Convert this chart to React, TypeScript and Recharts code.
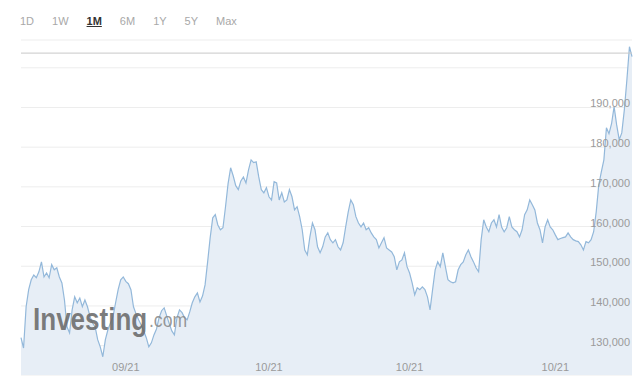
import React from 'react';
import { AreaChart, Area, XAxis, YAxis, CartesianGrid, ReferenceLine } from 'recharts';

// price closes, oldest first
const closes = [
  132000, 129400, 139800, 144100, 146600, 147800, 147100, 148600, 151100, 147300,
  148300, 147100, 150400, 149100, 149600, 147300, 145800, 141500, 134700, 133200,
  139000, 142300, 140800, 142000, 139800, 141500, 139800, 137300, 135700, 134700,
  131500, 129700, 127200, 131500, 134000, 135700, 137300, 140800, 144100, 146600,
  147300,
  146200, 145600, 144100, 139800, 138000, 136500, 135200, 133700, 132000, 129700,
  130700, 132700, 134200, 137000, 138800, 139500, 137500, 135500, 133700, 132700,
  137000, 139000, 138300, 137000, 136500, 138500, 140800, 142300, 143300, 141000,
  142500, 145300, 151100, 157200, 162200, 163000, 160400, 159200, 159700, 165000,
  170800, 174800, 172800, 170300, 169300, 171500,
  172500, 171000, 174300, 176800, 176100, 176300, 172500, 169300, 168500, 169800,
  167500, 166700, 171300, 171000, 166700, 168500, 166200, 166700, 169300, 167500,
  164200, 165000, 162500, 159200, 154100, 152900, 157400, 160900, 159200, 154900,
  153400, 154900, 157400, 158400, 156700, 155900, 156700, 154900, 154100, 155900,
  159900, 163700, 166700, 165500,
  162500, 160900, 159900, 160900, 159200, 159700, 158400, 157400, 156700, 154600,
  155900, 157200, 154600, 154100, 153600, 152400, 149100, 151100, 151600, 153400,
  149900, 148300, 145800, 142800, 144600, 144100, 144800, 144100, 142300, 139000,
  144100, 149100, 151100, 149900, 153400, 149900, 146600, 146100, 145800,
  146100, 149100, 150400, 151100, 152900, 154100, 152400, 151100, 149600, 148600,
  156700, 161700, 159900, 158700, 160900, 161700, 159900, 163000, 159900, 158700,
  159700, 162500, 159900, 159200, 158700, 157400, 159200, 163000, 164200, 166700,
  165500, 164200, 160900, 159200, 155900, 159900, 161700, 159900, 159200, 157900,
  156700, 157000, 157200, 157400, 158400, 157400,
  156700, 156400, 156200, 155400, 154100, 156200, 155900, 156700, 158700, 163700,
  170500, 173800, 176800, 184900, 183400, 185900, 190200, 185600, 181900, 183600,
  189400, 197000, 205300, 202800,
];

const tickIdx = [41, 97, 152, 209];
const tickLabels = ['09/21', '10/21', '10/21', '10/21'];
const yTicks = [130000, 140000, 150000, 160000, 170000, 180000, 190000, 200000];
const periods = ['1D', '1W', '1M', '6M', '1Y', '5Y', 'Max'];

const font = 'Arial, "Liberation Sans", sans-serif';

const XTick = (props: any) => {
  const { x, payload } = props;
  const k = tickIdx.indexOf(payload.value);
  return (
    <text x={x} y={371} textAnchor="middle" fontSize={11} fontFamily={font} fill="#9a9a9a">
      {k >= 0 ? tickLabels[k] : ''}
    </text>
  );
};

const YTick = (props: any) => {
  const { y, payload } = props;
  if (payload.value >= 200000) return <g />;
  return (
    <text x={630} y={y} textAnchor="end" fontSize={11} fontFamily={font} fill="#9a9a9a">
      {payload.value.toLocaleString('en-US')}
    </text>
  );
};

const App = () => {
  const data = closes.map((v, i) => ({ i, v }));

  return (
    <div style={{ position: 'absolute', left: 0, top: 0, width: 640, height: 385, background: '#fff', fontFamily: font }}>
      <div style={{ position: 'absolute', left: 20, top: 15, display: 'flex', gap: 18, fontSize: 11, color: '#a8a8a8' }}>
        {periods.map((p) => (
          <span key={p} style={p === '1M' ? { color: '#333', fontWeight: 'bold', textDecoration: 'underline' } : undefined}>
            {p}
          </span>
        ))}
      </div>
      <AreaChart width={640} height={385} data={data} margin={{ top: 40, right: 8, left: 21, bottom: 10 }}>
        <CartesianGrid vertical={false} stroke="#ededed" />
        <Area
          type="linear"
          dataKey="v"
          stroke="#93b8da"
          strokeWidth={1.2}
          fill="#e7eef6"
          fillOpacity={1}
          dot={false}
          activeDot={false}
          isAnimationActive={false}
        />
        <XAxis
          dataKey="i"
          type="number"
          domain={[0, closes.length - 1]}
          ticks={tickIdx}
          interval={0}
          mirror
          height={30}
          axisLine={false}
          tickLine={false}
          tickSize={0}
          tickMargin={0}
          tick={<XTick />}
        />
        <YAxis
          orientation="right"
          domain={[122600, 207000]}
          ticks={yTicks}
          interval={0}
          allowDataOverflow
          mirror
          width={60}
          axisLine={false}
          tickLine={false}
          tickSize={0}
          tickMargin={0}
          tick={<YTick />}
        />
        <ReferenceLine y={203700} stroke="#c8c8c8" />
      </AreaChart>
      {/* watermark, squeezed horizontally like the logo type */}
      <svg width={640} height={385} style={{ position: 'absolute', left: 0, top: 0, pointerEvents: 'none' }}>
        <g transform="translate(33,330) scale(0.84,1)">
          <text x={0} y={0} fontFamily={font} fontWeight="bold" fontSize={31} fill="#6a6a6a" fillOpacity={0.88}>
            Investing
            <tspan dx={2} dy={-3} fontWeight="normal" fontSize={21} fill="#8a8a8a">.com</tspan>
          </text>
        </g>
      </svg>
    </div>
  );
};

export default App;
